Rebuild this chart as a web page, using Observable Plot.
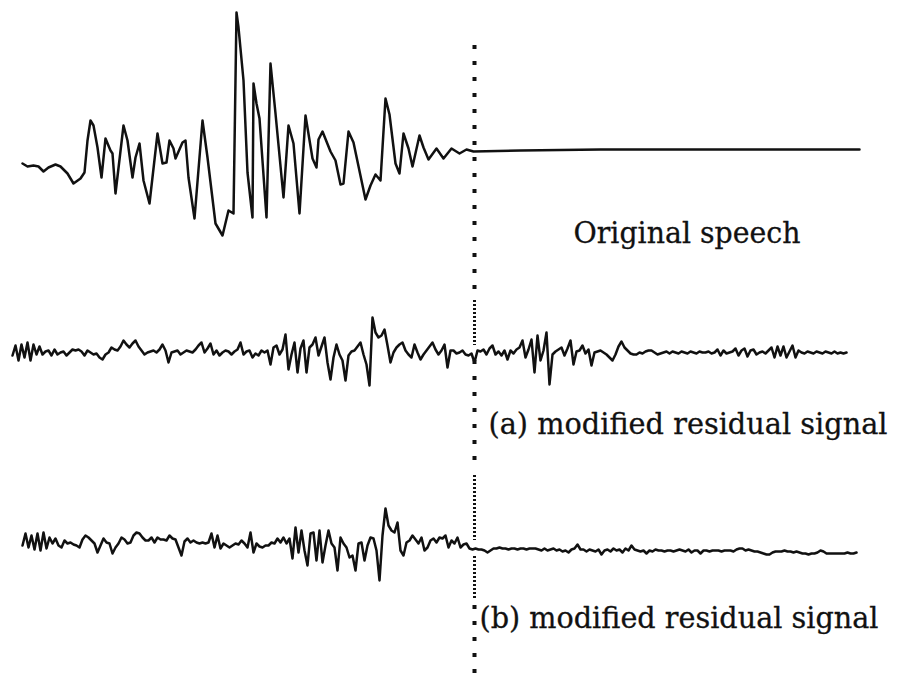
<!DOCTYPE html>
<html>
<head>
<meta charset="utf-8">
<script src="https://cdn.jsdelivr.net/npm/d3@7"></script>
<script src="https://cdn.jsdelivr.net/npm/@observablehq/plot@0.6"></script>
<style>
  html, body { margin: 0; padding: 0; background: #fff; }
  #chart svg { display: block; }
</style>
</head>
<body>
<div id="chart"></div>
<script>
// Original speech waveform: sample index and amplitude at each vertex
const speechN = [12,17,23,28,33,38,45,50,57,63,70,74,77,80,83,87,91,95,100,102,
  105,113,117,122,125,129,133,139,147,152,156,159,163,165,172,175,178,184,192,197,
  205,212,218,223,226,228,233,237,242,243,246,249,256,260,265,273,278,283,289,295,
  302,306,308,312,320,325,330,333,338,343,355,360,365,370,375,379,385,389,393,398,
  402,409,413,418,426,433,441,449,456,463,510,590,690,849];
const speechAmp = [-13,-16,-15,-16,-21,-17,-14,-16,-23,-33,-28,-22,10,30,25,3,-27,12,0,-3,
  -43,25,10,-27,-7,7,-30,-53,17,-13,-12,10,2,-8,8,10,-27,-68,30,-7,
  -73,-85,-60,-63,138,123,70,-22,-67,67,47,32,-67,87,37,-47,25,7,-63,35,
  -8,-17,11,19,-1,-10,-34,-33,19,8,-49,-35,-24,-30,52,36,-13,-23,17,2,
  -16,15,3,-9,2,-8,2,-3,1,-1,0,1,1,1];

// Residual signals, sampled every 3 samples
const residualStep = 3;
const residualAStart = 2;
const residualA = [
  -3,7,-8,8,-5,10,-8,8,-2,6,
  -2,1,2,-3,3,-2,0,1,-3,0,
  3,2,3,1,-3,2,0,-2,-1,-5,
  -7,-2,0,5,3,2,6,12,8,5,
  9,12,6,2,-2,0,1,2,0,3,
  8,2,-10,0,1,2,-2,0,2,1,
  0,3,7,10,0,4,9,-2,2,-3,
  0,2,1,-2,1,3,10,-2,1,2,
  -5,-1,-3,2,0,2,-12,5,7,-2,
  3,18,-17,-2,10,-20,4,12,-20,5,
  8,15,-3,6,15,-10,-27,-5,8,-2,
  -8,-28,-3,1,2,6,10,-2,-12,-33,
  35,20,15,17,23,7,-10,0,5,8,
  10,2,-2,-5,8,0,-7,-2,2,6,
  10,3,-2,2,8,-15,2,2,-1,0,
  2,-2,-3,-1,-10,2,1,3,-2,4,
  7,-2,1,-3,2,-7,2,-1,3,5,
  12,-5,3,13,-20,17,-8,2,20,-32,
  -2,1,3,5,-3,4,12,-12,1,2,
  7,-1,3,-13,0,1,2,0,-2,-5,
  -8,-2,6,11,5,2,-1,-2,-2,0,
  -1,1,2,2,0,-2,-1,0,1,-1,
  1,0,-1,1,0,-1,1,0,-1,1,
  0,0,1,-1,0,3,-3,2,-1,0,
  1,4,-3,2,4,-4,2,3,-2,0,
  1,-1,2,5,-5,6,-3,6,-5,1,
  7,-5,2,0,-1,1,0,-1,1,0,
  -1,1,0,-1,1,-1,0,-1,0];
const residualBStart = 12;
const residualB = [
  0,12,-2,10,-4,12,-5,13,-3,8,
  2,7,0,-2,5,2,3,1,0,-2,
  6,10,8,5,2,-7,0,7,3,2,
  -8,-2,2,8,6,2,3,10,13,12,
  8,5,5,8,3,8,6,6,5,10,
  7,6,-2,-10,4,7,3,5,3,2,
  3,2,3,12,-2,10,-3,2,0,-2,
  0,2,1,5,2,-2,13,-7,2,-1,
  -2,0,0,3,2,7,3,8,2,7,
  -13,18,-7,15,-5,-20,12,13,-15,15,
  -17,0,15,2,-2,-25,8,2,-2,-12,
  -10,-25,2,3,-15,0,8,7,-5,-35,
  10,37,20,15,13,23,-5,-10,3,5,
  10,6,2,8,-5,-2,5,7,3,8,
  7,10,-2,5,2,8,-2,1,2,-3,
  -4,-3,-4,-4,-5,-7,-5,-3,-3,-2,
  -3,-3,-4,-3,-3,-4,-3,-3,-4,-3,
  -3,-3,-4,-5,-3,-5,-4,-3,-5,-4,
  -6,-5,-7,-4,-3,1,-4,-4,-6,-4,
  -5,-6,-4,-9,-5,-4,-6,-3,-5,-4,
  -7,-3,-5,0,-4,-5,-6,-5,-8,-5,
  -6,-4,-5,-5,-6,-5,-5,-6,-5,-4,
  -5,-6,-4,-7,-5,-5,-8,-5,-5,-6,
  -5,-5,-5,-6,-5,-5,-5,-6,-4,-3,
  -3,-5,-4,-5,-6,-6,-7,-8,-9,-9,
  -7,-6,-6,-6,-5,-6,-6,-7,-6,-7,
  -8,-8,-9,-8,-8,-7,-5,-6,-8,-8,
  -8,-8,-8,-8,-8,-7,-8,-8,-7];

const labels = ["Original speech", "(a) modified residual signal", "(b) modified residual signal"];

// Vertical stacking of the three traces
const baseline = {speech: 0, a: -202, b: -395};
const markerSample = 464;

const rows = [];
speechN.forEach((n, i) => rows.push({trace: "speech", n, v: speechAmp[i] + baseline.speech}));
residualA.forEach((a, i) => rows.push({trace: "a", n: residualAStart + i * residualStep, v: a + baseline.a}));
residualB.forEach((a, i) => rows.push({trace: "b", n: residualBStart + i * residualStep, v: a + baseline.b}));

// Dotted time marker, drawn in pieces with coarse and fine dot spacing
const coarse = {dash: "4,12", w: 4};
const fine = {dash: "2,2", w: 3};
const markerSegs = [
  {y1: 105, y2: -150, ...coarse},
  {y1: -150, y2: -195, ...fine},
  {y1: -210, y2: -322, ...coarse},
  {y1: -325, y2: -390, ...fine},
  {y1: -406, y2: -450, ...fine},
  {y1: -455, y2: -535, ...coarse}
];

const labelRows = [
  {text: labels[0], n: 563, v: -92, w: 227},
  {text: labels[1], n: 478, v: -283, w: 399},
  {text: labels[2], n: 469, v: -477, w: 399}
];

const chart = Plot.plot({
  width: 897,
  height: 685,
  margin: 0,
  x: {domain: [-10, 887], axis: null},
  y: {domain: [-535, 150], axis: null},
  marks: [
    ...markerSegs.map(s => Plot.ruleX([markerSample], {
      y1: s.y1, y2: s.y2, stroke: "#111", strokeWidth: s.w,
      strokeDasharray: s.dash, strokeLinecap: "butt"
    })),
    Plot.line(rows, {
      x: "n", y: "v", z: "trace", stroke: "#111",
      strokeWidth: 2.5, strokeLinejoin: "round", curve: "linear"
    }),
    Plot.text(labelRows, {
      x: "n", y: "v", text: "text", textAnchor: "start", lineAnchor: "bottom",
      fontSize: 29, fontFamily: "DejaVu Serif", fill: "#111",
      stroke: "#111", strokeWidth: 0.3
    })
  ]
});

document.getElementById("chart").appendChild(chart);

// Fit each label to its set width
const texts = chart.querySelectorAll("g[aria-label='text'] text");
texts.forEach((t, i) => {
  t.setAttribute("textLength", labelRows[i].w);
  t.setAttribute("lengthAdjust", "spacingAndGlyphs");
});
</script>
</body>
</html>
